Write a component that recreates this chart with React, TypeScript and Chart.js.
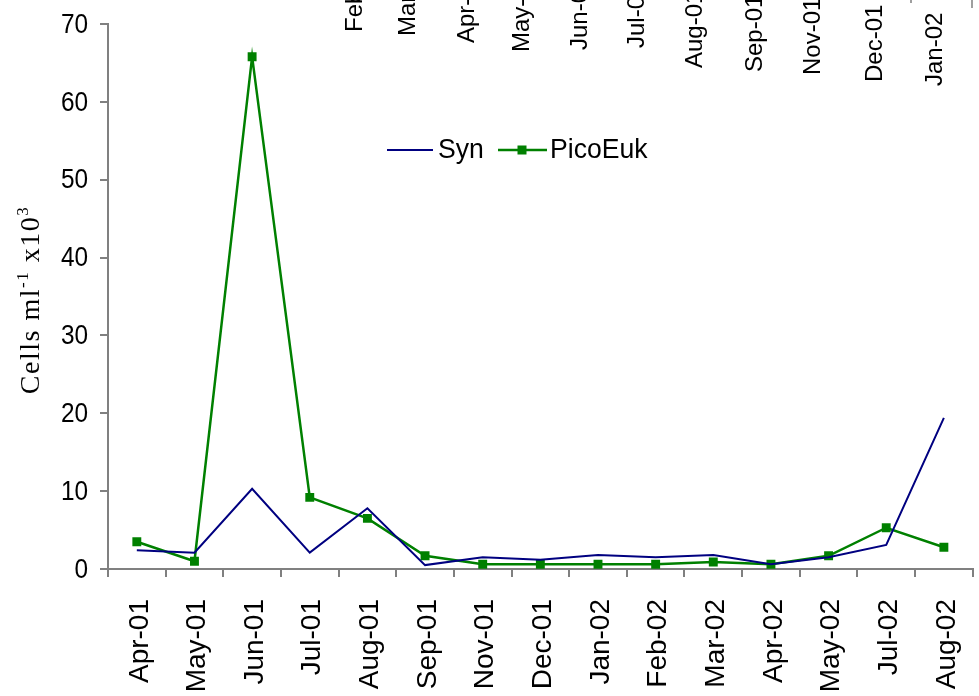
import React, { useEffect, useRef } from 'react';
import { Chart, registerables } from 'chart.js';

Chart.register(...registerables);

// ---- data ----
const months = ['Apr-01', 'May-01', 'Jun-01', 'Jul-01', 'Aug-01', 'Sep-01', 'Nov-01', 'Dec-01', 'Jan-02', 'Feb-02', 'Mar-02', 'Apr-02', 'May-02', 'Jul-02', 'Aug-02'];
const synValues = [2.4, 2.1, 10.3, 2.1, 7.8, 0.5, 1.5, 1.2, 1.8, 1.5, 1.8, 0.6, 1.5, 3.1, 19.4];
const picoEukValues = [3.5, 1.0, 65.8, 9.2, 6.5, 1.7, 0.6, 0.6, 0.6, 0.6, 0.9, 0.6, 1.7, 5.3, 2.8];
const yMin = 0;
const yMax = 70;
const yStep = 10;

// stray rotated labels visible at the top of the picture
const strayLabels = ['Feb-01', 'Mar-01', 'Apr-01', 'May-01', 'Jun-01', 'Jul-01', 'Aug-01', 'Sep-01', 'Nov-01', 'Dec-01', 'Jan-02'];
const strayBaselineX = [362, 415, 474, 529, 587, 644, 702, 762, 820, 882, 942];
const strayStartY = [32, 36, 43, 52, 50, 48, 68, 72, 75, 82, 86];

const SANS = '"Liberation Sans", Arial, sans-serif';
const SERIF = '"Liberation Serif", "Times New Roman", serif';
const NAVY = '#000080';
const GREEN = '#008000';

const overlayPlugin = {
  id: 'overlay',
  afterDraw(chart: any) {
    const ctx: CanvasRenderingContext2D = chart.ctx;
    const xs = chart.scales.x;
    const ys = chart.scales.y;
    const area = chart.chartArea;

    // y tick labels (slightly condensed)
    ctx.save();
    ctx.fillStyle = '#000';
    ctx.font = `28px ${SANS}`;
    ctx.textAlign = 'right';
    ctx.textBaseline = 'middle';
    ys.ticks.forEach((t: any) => {
      const y = ys.getPixelForValue(t.value);
      ctx.save();
      ctx.translate(area.left - 20, y + 1);
      ctx.scale(0.87, 1);
      ctx.fillText(String(t.value), 0, 0);
      ctx.restore();
    });
    ctx.restore();

    // x tick labels (rotated)
    ctx.save();
    ctx.fillStyle = '#000';
    ctx.font = `28px ${SANS}`;
    months.forEach((m, i) => {
      const x = xs.getPixelForValue(i);
      ctx.save();
      ctx.translate(x + 3, area.bottom + 30);
      ctx.rotate(-Math.PI / 2);
      ctx.textAlign = 'right';
      ctx.textBaseline = 'middle';
      ctx.fillText(m, 0, 0);
      ctx.restore();
    });
    ctx.restore();

    // y axis title with superscripts
    ctx.save();
    ctx.translate(29, 300);
    ctx.rotate(-Math.PI / 2);
    ctx.fillStyle = '#000';
    ctx.textBaseline = 'alphabetic';
    ctx.textAlign = 'left';
    (ctx as any).letterSpacing = '1.5px';
    const parts: [string, number, number][] = [
      ['Cells ml', 28, 0],
      ['-1', 17, -11],
      [' x10', 28, 0],
      ['3', 17, -11],
    ];
    let total = 0;
    parts.forEach(([t, s]) => {
      ctx.font = `${s}px ${SERIF}`;
      total += ctx.measureText(t).width;
    });
    let cx = -total / 2;
    parts.forEach(([t, s, dy]) => {
      ctx.font = `${s}px ${SERIF}`;
      ctx.fillText(t, cx, 10 + dy);
      cx += ctx.measureText(t).width;
    });
    ctx.restore();

    // legend
    ctx.save();
    const ly = 150;
    ctx.lineWidth = 2;
    ctx.strokeStyle = NAVY;
    ctx.beginPath();
    ctx.moveTo(387, ly);
    ctx.lineTo(433, ly);
    ctx.stroke();
    ctx.font = `28px ${SANS}`;
    ctx.fillStyle = '#000';
    ctx.textBaseline = 'middle';
    ctx.textAlign = 'left';
    ctx.save();
    ctx.translate(438, ly);
    ctx.scale(0.95, 1);
    ctx.fillText(chart.data.datasets[0].label, 0, 0);
    ctx.restore();
    ctx.strokeStyle = GREEN;
    ctx.lineWidth = 2.5;
    ctx.beginPath();
    ctx.moveTo(498, ly);
    ctx.lineTo(547, ly);
    ctx.stroke();
    ctx.fillStyle = GREEN;
    ctx.fillRect(522 - 4.5, ly - 4.5, 9, 9);
    ctx.fillStyle = '#000';
    ctx.save();
    ctx.translate(550, ly);
    ctx.scale(0.95, 1);
    ctx.fillText(chart.data.datasets[1].label, 0, 0);
    ctx.restore();
    ctx.restore();

    // stray labels at top
    ctx.save();
    ctx.fillStyle = '#000';
    ctx.font = `24px ${SANS}`;
    strayLabels.forEach((t, i) => {
      ctx.save();
      ctx.translate(strayBaselineX[i], strayStartY[i]);
      ctx.rotate(-Math.PI / 2);
      ctx.textAlign = 'left';
      ctx.textBaseline = 'alphabetic';
      ctx.fillText(t, 0, 0);
      ctx.restore();
    });
    ctx.strokeStyle = '#808080';
    ctx.lineWidth = 1.5;
    ctx.beginPath();
    ctx.moveTo(911, 0);
    ctx.lineTo(911, 3);
    ctx.moveTo(972, 0);
    ctx.lineTo(972, 8);
    ctx.stroke();
    ctx.restore();
  },
};

export default function App() {
  const ref = useRef<HTMLCanvasElement | null>(null);
  useEffect(() => {
    if (!ref.current) return;
    const chart = new Chart(ref.current, {
      type: 'line',
      data: {
        labels: months,
        datasets: [
          {
            label: 'Syn',
            data: synValues,
            borderColor: NAVY,
            backgroundColor: NAVY,
            borderWidth: 2,
            pointRadius: 0,
            tension: 0,
          },
          {
            label: 'PicoEuk',
            data: picoEukValues,
            borderColor: GREEN,
            backgroundColor: GREEN,
            borderWidth: 2.5,
            pointStyle: 'rect',
            pointRadius: 6.3,
            pointBorderWidth: 0,
            tension: 0,
          },
        ],
      },
      options: {
        responsive: false,
        animation: false,
        layout: { padding: { top: 24, right: 0, left: 0, bottom: 0 } },
        plugins: { legend: { display: false }, tooltip: { enabled: false } },
        scales: {
          x: {
            type: 'category',
            offset: true,
            grid: {
              offset: true,
              drawOnChartArea: false,
              drawTicks: true,
              tickLength: 8,
              color: '#808080',
              lineWidth: 2,
            },
            border: { color: '#808080', width: 2 },
            ticks: { display: false },
            afterFit: (s: any) => {
              s.height = 127;
            },
          },
          y: {
            min: yMin,
            max: yMax,
            ticks: {
              stepSize: yStep,
              display: false,
            },
            grid: {
              drawOnChartArea: false,
              drawTicks: true,
              tickLength: 8,
              color: '#808080',
              lineWidth: 2,
            },
            border: { color: '#808080', width: 2 },
            afterFit: (s: any) => {
              s.width = 108;
            },
          },
        },
      },
      plugins: [overlayPlugin],
    });
    return () => chart.destroy();
  }, []);
  return (
    <canvas
      ref={ref}
      width={979}
      height={696}
      style={{ position: 'absolute', left: 0, top: 0, width: 979, height: 696 }}
    />
  );
}
